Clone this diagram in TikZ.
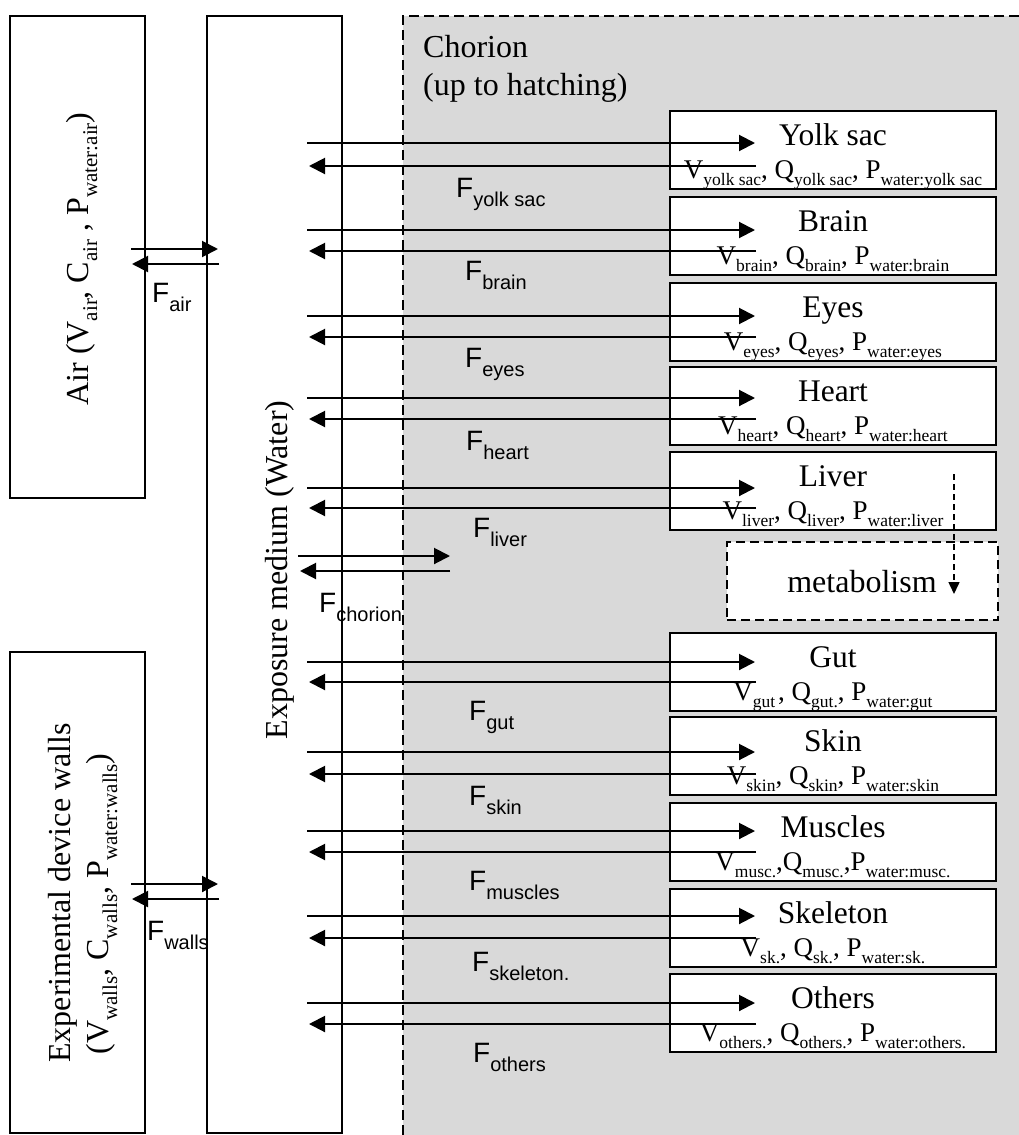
\documentclass[tikz,border=0pt]{standalone}
\usepackage{fontspec}
\setmainfont{Liberation Serif}
\newfontfamily\arialf{Liberation Sans}
\usetikzlibrary{arrows.meta}
\definecolor{chorgrey}{HTML}{D9D9D9}
\newcommand\lsub[3]{\raisebox{-#1pt}{\fontsize{#2}{#2}\selectfont #3}}
\newcommand\os[1]{\lsub{7}{17.5}{#1}}
\newcommand\bs[1]{\lsub{9}{21}{#1}}
\newcommand\FF[1]{{\arialf\fontsize{28}{28}\selectfont F\lsub{9}{20}{#1}}}
\begin{document}
\begin{tikzpicture}[x=1pt,y=-1pt,
  bigbox/.style={draw, line width=2pt, minimum width=135pt, inner sep=0pt},
  organ/.style={draw, line width=2pt, fill=white, minimum width=326pt, minimum height=78pt, inner sep=0pt},
  metabox/.style={draw, dashed, dash pattern=on 9pt off 5pt, line width=1.5pt, fill=white, minimum width=271pt, minimum height=78pt, inner sep=0pt},
  bigtxt/.style={font=\fontsize{32}{38}\selectfont, inner sep=0pt},
  oname/.style={font=\fontsize{31.5}{36}\selectfont, inner sep=0pt, anchor=base},
  oline/.style={font=\fontsize{27}{30}\selectfont, inner sep=0pt, anchor=base},
  flab/.style={inner sep=0pt, anchor=base west},
  arr/.style={line width=2pt, -{Triangle[length=16pt,width=16pt]}},
  dasharr/.style={line width=1.5pt, dash pattern=on 6pt off 4pt, -{Triangle[length=12pt,width=11pt]}},
  chorline/.style={line width=2pt, dash pattern=on 10pt off 5pt}]
\useasboundingbox (0,0) rectangle (1019,1135);
% chorion region
\fill[chorgrey] (403,16) rectangle (1019,1135);
\draw[chorline] (1019,16) -- (403,16) -- (403,1135);
\node[bigtxt, anchor=base west] (chor1) at (423,57) {Chorion};
\node[bigtxt, anchor=base west] (chor2) at (423,95) {(up to hatching)};
% big boxes
\node[bigbox, minimum height=482pt] (air) at (77.5,257) {};
\node[bigbox, minimum height=1117pt] (water) at (274.5,574.5) {};
\node[bigbox, minimum height=481pt] (walls) at (77.5,892.5) {};
\node[bigtxt, rotate=90, anchor=base] (airlab) at (88,259) {Air (V\bs{air}, C\bs{air} , P\bs{water:air})};
\node[bigtxt, rotate=90, anchor=base] (wallslab1) at (70,893) {Experimental device walls};
\node[bigtxt, rotate=90, anchor=base] (wallslab2) at (108,904) {(V\bs{walls}, C\bs{walls}, P\bs{water:walls})};
\node[bigtxt, rotate=90, anchor=base] (waterlab) at (287,570) {Exposure medium (Water)};
% air exchange
\coordinate (aira) at (131,249); \coordinate (airb) at (218,249);
\coordinate (airc) at (219,264); \coordinate (aird) at (132,264);
\draw[arr] (aira) -- (airb);
\draw[arr] (airc) -- (aird);
\node[flab] (fair) at (152,302) {\FF{air}};
% walls exchange
\coordinate (wala) at (131,884); \coordinate (walb) at (218,884);
\coordinate (walc) at (219,899); \coordinate (wald) at (132,899);
\draw[arr] (wala) -- (walb);
\draw[arr] (walc) -- (wald);
\node[flab] (fwalls) at (147,940) {\FF{walls}};
% chorion exchange
\coordinate (cha) at (298,556); \coordinate (chb) at (450,556);
\coordinate (chc) at (450,571); \coordinate (chd) at (300,571);
\draw[arr] (cha) -- (chb);
\draw[arr] (chc) -- (chd);
\node[flab] (fchor) at (319,612) {\FF{chorion}};
% metabolism
\node[metabox] (metab) at (862.5,581) {};
\node[bigtxt, anchor=base] (metabt) at (862,592) {metabolism};
% organs
\foreach \n/\tp/\nm/\vl/\ra/\la/\fx/\fy/\fs in {
 yolk/111/{Yolk sac}/{V\os{yolk sac}, Q\os{yolk sac}, P\os{water:yolk sac}}/143/166/456/197/{yolk sac},
 brain/197/{Brain}/{V\os{brain}, Q\os{brain}, P\os{water:brain}}/230/251/465/280/{brain},
 eyes/283/{Eyes}/{V\os{eyes}, Q\os{eyes}, P\os{water:eyes}}/316/337/465/367/{eyes},
 heart/367/{Heart}/{V\os{heart}, Q\os{heart}, P\os{water:heart}}/398/419/466/450/{heart},
 liver/452/{Liver}/{V\os{liver}, Q\os{liver}, P\os{water:liver}}/488/508/473/537/{liver},
 gut/633/{Gut}/{V\os{gut\,}, Q\os{gut.}, P\os{water:gut}}/662/682/469/720/{gut},
 skin/717/{Skin}/{V\os{skin}, Q\os{skin}, P\os{water:skin}}/752/774/469/805/{skin},
 musc/803/{Muscles}/{V\os{musc.},Q\os{musc.},P\os{water:musc.}}/831/852/469/890/{muscles},
 skel/889/{Skeleton}/{V\os{sk.}, Q\os{sk.}, P\os{water:sk.}}/916/938/472/971/{skeleton.},
 others/974/{Others}/{V\os{others.}, Q\os{others.}, P\os{water:others.}}/1003/1024/473/1062/{others}}{
  \node[organ] (\n) at (833,\tp+39) {};
  \node[oname] (\n-t) at (833,\tp+34) {\nm};
  \node[oline] (\n-v) at (833,\tp+67) {\vl};
  \coordinate (\n-a) at (307,\ra); \coordinate (\n-b) at (755,\ra);
  \coordinate (\n-c) at (756,\la); \coordinate (\n-d) at (309,\la);
  \draw[arr] (\n-a) -- (\n-b);
  \draw[arr] (\n-c) -- (\n-d);
  \node[flab] (\n-f) at (\fx,\fy) {\FF{\fs}};
}
% liver metabolism arrow
\coordinate (ms) at (954,474); \coordinate (me) at (954,594);
\draw[dasharr] (ms) -- (me);
\end{tikzpicture}
\end{document}
